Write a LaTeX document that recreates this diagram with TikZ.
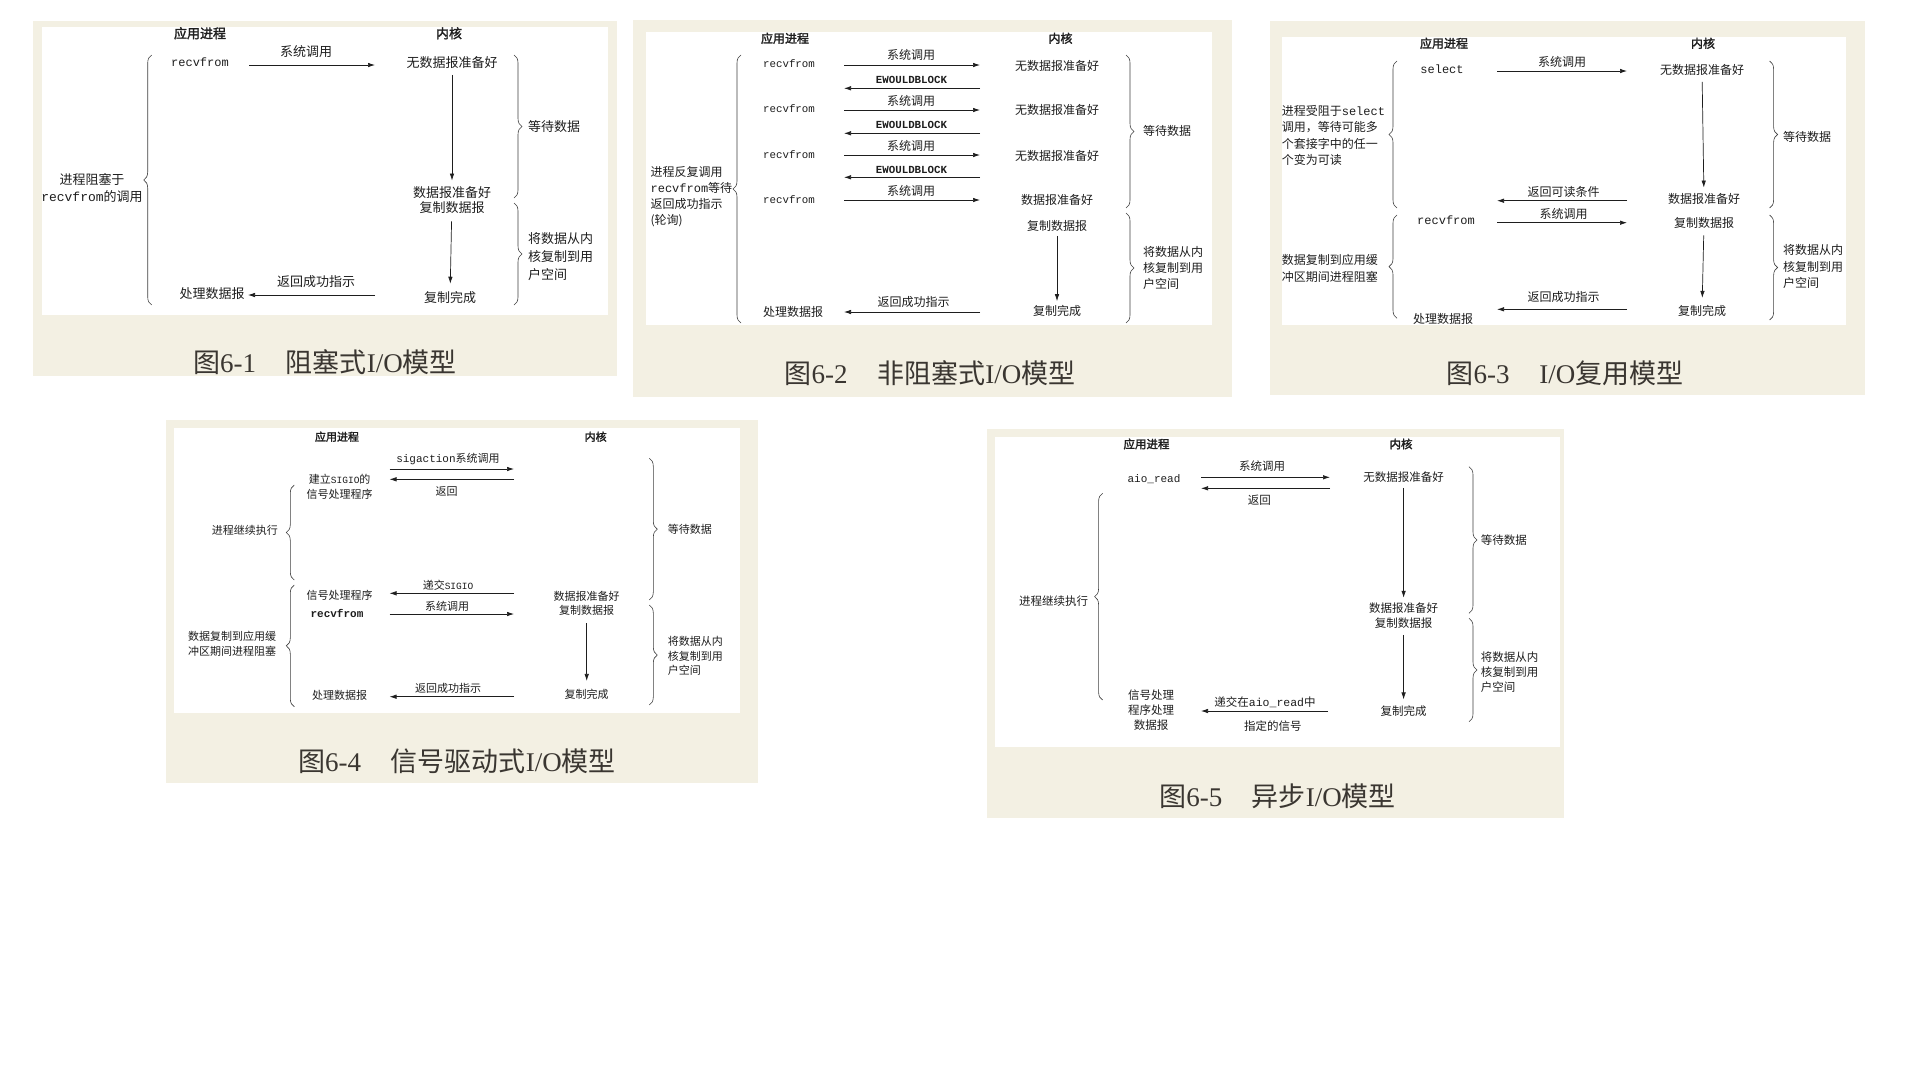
\documentclass[tikz,border=0pt]{standalone}
\usepackage{fontspec}
\setmainfont{Liberation Serif}
\setmonofont{Liberation Mono}
\newfontfamily\cjk{Noto Sans CJK SC}[AutoFakeBold=2]
\usetikzlibrary{arrows.meta,decorations.pathreplacing}
\definecolor{beige}{HTML}{F3F0E3}
\definecolor{ink}{HTML}{1E1E1E}
\definecolor{capink}{HTML}{3A3631}
\tikzset{
  bgbox/.style={fill=beige},
  wbox/.style={fill=white},
  txt/.style n args={2}{inner sep=0pt, text=ink, align=center, font=\cjk\fontsize{#1}{#2}\selectfont},
  lft/.style={align=left, anchor=west},
  hd/.style={inner sep=0pt, text=ink, font=\cjk\bfseries\fontsize{#1}{#1}\selectfont},
  figcap/.style={inner sep=0pt, text=capink, font=\rmfamily\fontsize{27}{30}\selectfont},
  arr/.style={draw=ink, line width=0.7pt, -{Latex[length=7pt,width=4.5pt]}},
  varr/.style={arr, shorten <=#1, shorten >=#1},
  brc/.style={draw=black!75, line width=0.6pt, decorate, decoration={brace, amplitude=8pt}}
}
\newcommand\harrow[4]{\coordinate (#1s) at (#2,#4); \coordinate (#1e) at (#3,#4); \draw[arr] (#1s) -- (#1e);}
\newcommand\mycapt[3]{{\cjk 图}#1\hspace{1.1em}{\cjk #2}I/O{\cjk #3}}
\begin{document}
\begin{tikzpicture}[x=1pt,y=-1pt]
\useasboundingbox (0,0) rectangle (1920,1080);
\fill[white] (0,0) rectangle (1920,1080);

% ================= Panel 1 =================
\fill[bgbox] (32.7,20.7) rectangle (617,376);
\fill[wbox] (42,26.7) rectangle (608,315);
\node[hd=13] (p1h1) at (200,33.3) {应用进程};
\node[hd=13] (p1h2) at (449,33.3) {内核};
\node[txt={12}{14}] (p1r1) at (200,62.7) {\ttfamily recvfrom};
\harrow{p1a1}{249}{375}{65}
\node[txt={13}{17}] (p1l1) at (306,51.7) {系统调用};
\node[txt={13}{17}] (p1k1) at (452,62.7) {无数据报准备好};
\node[txt={13}{14.5}] (p1k2) at (452,200) {数据报准备好\\复制数据报};
\node[txt={13}{17}] (p1k3) at (450,298) {复制完成};
\draw[varr=6pt] (p1k1) -- (p1k2);
\draw[varr=8pt] (p1k2) -- (p1k3);
\node[txt={13}{17}] (p1r2) at (212,294) {处理数据报};
\harrow{p1a2}{375}{248}{295}
\node[txt={13}{17}] (p1l2) at (316,282) {返回成功指示};
\draw[brc] (151.7,305) -- (151.7,55);
\node[txt={13}{17}] (p1lb) at (92,188.5) {进程阻塞于\\{\ttfamily recvfrom}的调用};
\draw[brc] (514,55) -- (514,198);
\draw[brc] (514,203) -- (514,305);
\node[txt={13}{17},lft] (p1rb1) at (528,127) {等待数据};
\node[txt={13}{18},lft] (p1rb2) at (528,257) {将数据从内\\核复制到用\\户空间};
\node[figcap] (p1cap) at (325,362) {\mycapt{6-1}{阻塞式}{模型}};

% ================= Panel 2 =================
\fill[bgbox] (633,20) rectangle (1232,397);
\fill[wbox] (645.5,31.7) rectangle (1211.5,325);
\node[hd=12] (p2h1) at (785,38.3) {应用进程};
\node[hd=12] (p2h2) at (1060.5,38.3) {内核};
\node[txt={10.8}{12}] (p2r1) at (789,63.3) {\ttfamily recvfrom};
\node[txt={10.8}{12}] (p2r2) at (789,109) {\ttfamily recvfrom};
\node[txt={10.8}{12}] (p2r3) at (789,155) {\ttfamily recvfrom};
\node[txt={10.8}{12}] (p2r4) at (789,199.3) {\ttfamily recvfrom};
\harrow{p2a1}{844}{980}{65}
\harrow{p2a2}{980}{844}{88.3}
\harrow{p2a3}{844}{980}{110}
\harrow{p2a4}{980}{844}{133.3}
\harrow{p2a5}{844}{980}{155}
\harrow{p2a6}{980}{844}{177.3}
\harrow{p2a7}{844}{980}{200}
\node[txt={12}{14}] (p2s1) at (911,55) {系统调用};
\node[txt={10.8}{12}] (p2e1) at (911.5,80) {\ttfamily\bfseries EWOULDBLOCK};
\node[txt={12}{14}] (p2s2) at (911,100.7) {系统调用};
\node[txt={10.8}{12}] (p2e2) at (911.5,125) {\ttfamily\bfseries EWOULDBLOCK};
\node[txt={12}{14}] (p2s3) at (911,145.7) {系统调用};
\node[txt={10.8}{12}] (p2e3) at (911.5,170) {\ttfamily\bfseries EWOULDBLOCK};
\node[txt={12}{14}] (p2s4) at (911,191) {系统调用};
\node[txt={12}{14}] (p2k1) at (1057,66) {无数据报准备好};
\node[txt={12}{14}] (p2k2) at (1057,110) {无数据报准备好};
\node[txt={12}{14}] (p2k3) at (1057,155.7) {无数据报准备好};
\node[txt={12}{14}] (p2k4) at (1057,200) {数据报准备好};
\node[txt={12}{14}] (p2k5) at (1057,226) {复制数据报};
\node[txt={12}{14}] (p2k6) at (1057,311) {复制完成};
\draw[varr=4pt] (p2k5) -- (p2k6);
\node[txt={12}{14}] (p2r5) at (793,312) {处理数据报};
\harrow{p2a8}{980}{844}{312}
\node[txt={12}{14}] (p2l8) at (913.6,301.7) {返回成功指示};
\draw[brc] (741,323) -- (741,55);
\node[txt={12}{16},lft] (p2lb) at (650.4,196.8) {进程反复调用\\{\ttfamily recvfrom}等待\\返回成功指示\\(轮询)};
\draw[brc] (1126,55) -- (1126,208);
\draw[brc] (1126,213) -- (1126,323);
\node[txt={12}{16},lft] (p2rb1) at (1143,130.7) {等待数据};
\node[txt={12}{16},lft] (p2rb2) at (1143,268) {将数据从内\\核复制到用\\户空间};
\node[figcap] (p2cap) at (930,373) {\mycapt{6-2}{非阻塞式}{模型}};

% ================= Panel 3 =================
\fill[bgbox] (1270,20.7) rectangle (1865,395);
\fill[wbox] (1281.6,37.3) rectangle (1846,325);
\node[hd=12] (p3h1) at (1444,43.3) {应用进程};
\node[hd=12] (p3h2) at (1703,43.3) {内核};
\node[txt={12}{14}] (p3r1) at (1442,69) {\ttfamily select};
\harrow{p3a1}{1497}{1627}{71}
\node[txt={12}{14}] (p3l1) at (1562,62.3) {系统调用};
\node[txt={12}{14}] (p3k1) at (1702,70) {无数据报准备好};
\node[txt={12}{14}] (p3k2) at (1704,199.3) {数据报准备好};
\draw[varr=6pt] (p3k1) -- (p3k2);
\harrow{p3a2}{1627}{1497}{200.7}
\node[txt={12}{14}] (p3l2) at (1563.5,191.7) {返回可读条件};
\node[txt={12}{14}] (p3r2) at (1446,220.7) {\ttfamily recvfrom};
\harrow{p3a3}{1497}{1627}{222.7}
\node[txt={12}{14}] (p3l3) at (1563.5,214) {系统调用};
\node[txt={12}{14}] (p3k3) at (1704,222.7) {复制数据报};
\node[txt={12}{14}] (p3k4) at (1702,310.7) {复制完成};
\draw[varr=7pt] (p3k3) -- (p3k4);
\node[txt={12}{14}] (p3r3) at (1443,319.3) {处理数据报};
\harrow{p3a4}{1627}{1497}{309.3}
\node[txt={12}{14}] (p3l4) at (1563.5,296.7) {返回成功指示};
\draw[brc] (1397,208) -- (1397,61);
\draw[brc] (1397,318.3) -- (1397,215);
\node[txt={12}{16.5},lft] (p3lb1) at (1281.6,135.6) {进程受阻于{\ttfamily select}\\调用，等待可能多\\个套接字中的任一\\个变为可读};
\node[txt={12}{16.5},lft] (p3lb2) at (1281.6,268.3) {数据复制到应用缓\\冲区期间进程阻塞};
\draw[brc] (1769.6,61) -- (1769.6,208);
\draw[brc] (1769.6,215) -- (1769.6,320);
\node[txt={12}{16.5},lft] (p3rb1) at (1783,136.7) {等待数据};
\node[txt={12}{16.5},lft] (p3rb2) at (1783,266.5) {将数据从内\\核复制到用\\户空间};
\node[figcap] (p3cap) at (1565,373) {\mycapt{6-3}{}{复用模型}};

% ================= Panel 4 =================
\fill[bgbox] (165.8,420) rectangle (758,783.3);
\fill[wbox] (174.4,428.3) rectangle (739.6,713.3);
\node[hd=11] (p4h1) at (337,436.7) {应用进程};
\node[hd=11] (p4h2) at (595.7,436.7) {内核};
\node[txt={11}{13}] (p4l1) at (448,459) {{\ttfamily sigaction}系统调用};
\harrow{p4a1}{389.5}{514}{469}
\harrow{p4a2}{514}{389.5}{479.3}
\node[txt={11}{13}] (p4l2) at (446.7,491.7) {返回};
\node[txt={11}{15.3}] (p4r1) at (339.7,486.7) {建立{\ttfamily\fontsize{9.5}{9.5}\selectfont SIGIO}的\\信号处理程序};
\draw[brc] (294.3,580) -- (294.3,485);
\node[txt={11}{13}] (p4lb1) at (244.8,530) {进程继续执行};
\node[txt={11}{13}] (p4l3) at (448,585) {递交{\ttfamily\fontsize{9.5}{9.5}\selectfont SIGIO}};
\harrow{p4a3}{514}{389.5}{593.3}
\node[txt={11}{13}] (p4r2) at (339.7,595) {信号处理程序};
\node[txt={11}{13}] (p4r3) at (337,613.3) {\ttfamily\bfseries recvfrom};
\node[txt={11}{13}] (p4l4) at (447,606) {系统调用};
\harrow{p4a4}{389.5}{514}{614}
\node[txt={11}{14}] (p4k1) at (586.7,603) {数据报准备好\\复制数据报};
\node[txt={11}{13}] (p4k2) at (586.7,694.3) {复制完成};
\draw[varr=8pt] (p4k1) -- (p4k2);
\node[txt={11}{13}] (p4r4) at (339.7,695.7) {处理数据报};
\harrow{p4a5}{514}{389.5}{696.7}
\node[txt={11}{13}] (p4l5) at (448,688.3) {返回成功指示};
\draw[brc] (294.3,706.7) -- (294.3,585);
\node[txt={11}{15}] (p4lb2) at (232,644.2) {数据复制到应用缓\\冲区期间进程阻塞};
\draw[brc] (649.3,458.3) -- (649.3,600);
\draw[brc] (649.3,605) -- (649.3,705);
\node[txt={11}{14.5},lft] (p4rb1) at (667.6,529.3) {等待数据};
\node[txt={11}{14.5},lft] (p4rb2) at (667.6,656) {将数据从内\\核复制到用\\户空间};
\node[figcap] (p4cap) at (457,761.7) {\mycapt{6-4}{信号驱动式}{模型}};

% ================= Panel 5 =================
\fill[bgbox] (987,429.3) rectangle (1563.6,818.3);
\fill[wbox] (994.5,436.7) rectangle (1559.8,747.3);
\node[hd=11.5] (p5h1) at (1146.5,444) {应用进程};
\node[hd=11.5] (p5h2) at (1401,444) {内核};
\node[txt={11}{13}] (p5r1) at (1154,479.3) {\ttfamily aio\_read};
\harrow{p5a1}{1201}{1330}{477.3}
\node[txt={11.5}{13}] (p5l1) at (1262,466) {系统调用};
\harrow{p5a2}{1330}{1201}{488.3}
\node[txt={11.5}{13}] (p5l2) at (1259.4,500.7) {返回};
\node[txt={11.5}{13}] (p5k1) at (1403.6,477.3) {无数据报准备好};
\node[txt={11.5}{15}] (p5k2) at (1403.6,615.8) {数据报准备好\\复制数据报};
\node[txt={11.5}{13}] (p5k3) at (1403.6,711) {复制完成};
\draw[varr=5pt] (p5k1) -- (p5k2);
\draw[varr=6pt] (p5k2) -- (p5k3);
\node[txt={11.5}{15}] (p5r2) at (1151,710) {信号处理\\程序处理\\数据报};
\harrow{p5a3}{1328}{1201}{711}
\node[txt={11.5}{13}] (p5l3) at (1265,702.7) {递交在{\ttfamily aio\_read}中};
\node[txt={11.5}{13}] (p5l4) at (1272.8,726) {指定的信号};
\draw[brc] (1102.6,700) -- (1102.6,493.3);
\node[txt={11.5}{13}] (p5lb) at (1053.5,601) {进程继续执行};
\draw[brc] (1469,466.7) -- (1469,613.3);
\draw[brc] (1469,618.3) -- (1469,721.7);
\node[txt={11.5}{15},lft] (p5rb1) at (1480.6,540) {等待数据};
\node[txt={11.5}{15},lft] (p5rb2) at (1480.6,671.7) {将数据从内\\核复制到用\\户空间};
\node[figcap] (p5cap) at (1277.6,796.7) {\mycapt{6-5}{异步}{模型}};
\end{tikzpicture}
\end{document}
